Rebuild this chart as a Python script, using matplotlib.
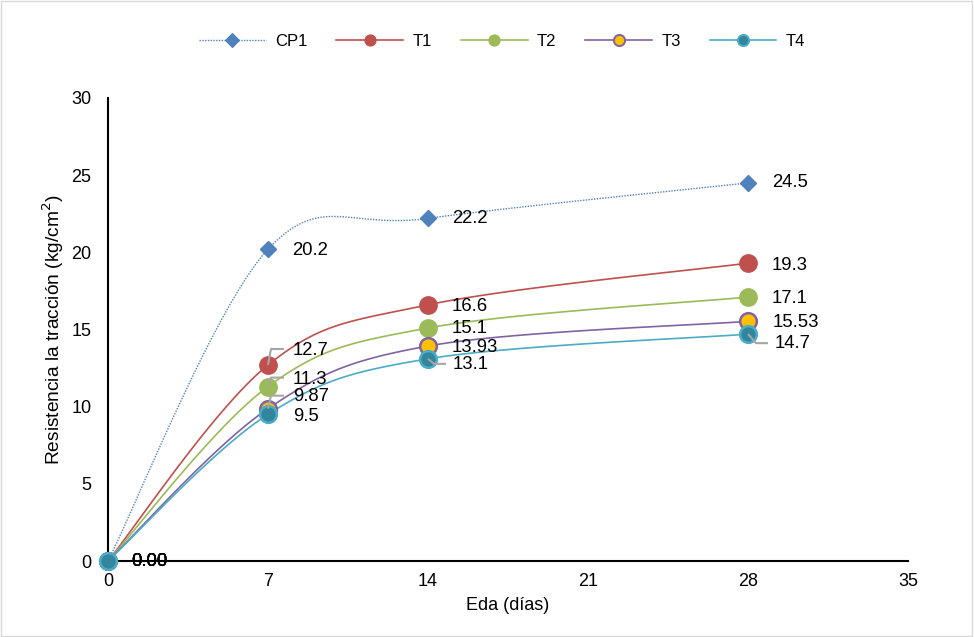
import numpy as np
import matplotlib
matplotlib.use("Agg")
import matplotlib.pyplot as plt
from matplotlib.patches import Rectangle

plt.rcParams['font.family'] = ['Liberation Sans', 'DejaVu Sans']

# Data
dias = [0, 7, 14, 28]
cp1 = [0.0, 20.2, 22.2, 24.5]
t1 = [0.0, 12.7, 16.6, 19.3]
t2 = [0.0, 11.3, 15.1, 17.1]
t3 = [0.0, 9.87, 13.93, 15.53]
t4 = [0.0, 9.5, 13.1, 14.7]
series_names = ["CP1", "T1", "T2", "T3", "T4"]
x_ticks = [0, 7, 14, 21, 28, 35]
y_ticks = [0, 5, 10, 15, 20, 25, 30]


def smooth(x, y, n=40):
    """Catmull-Rom style Bezier smoothing through all points."""
    pts = np.column_stack([np.asarray(x, float), np.asarray(y, float)])
    out = [pts[0]]
    m = len(pts)
    for i in range(m - 1):
        p0 = pts[i - 1] if i > 0 else pts[i]
        p1 = pts[i]
        p2 = pts[i + 1]
        p3 = pts[i + 2] if i + 2 < m else pts[i + 1]
        c1 = p1 + (p2 - p0) / 6.0
        c2 = p2 - (p3 - p1) / 6.0
        t = np.linspace(0, 1, n)[1:, None]
        seg = ((1 - t) ** 3) * p1 + 3 * ((1 - t) ** 2) * t * c1 \
            + 3 * (1 - t) * t ** 2 * c2 + t ** 3 * p2
        out.extend(seg)
    out = np.array(out)
    return out[:, 0], out[:, 1]


fig = plt.figure(figsize=(9.74, 6.37), dpi=100)
fig.patches.append(Rectangle((0.001, 0.002), 0.997, 0.996, transform=fig.transFigure,
                             fill=False, edgecolor='#D9D9D9', lw=1.0))
ax = fig.add_axes([108 / 974, 1 - 561 / 637, 800 / 974, 463 / 637])
ax.set_xlim(0, 35)
ax.set_ylim(0, 30)

styles = [
    dict(color='#4F81BD', ls=(0, (1, 1)), lw=1.0, marker='D', ms=8,
         mfc='#4F81BD', mec='#4F81BD', lms=7),
    dict(color='#C0504D', ls='-', lw=1.2, marker='o', ms=12.5,
         mfc='#C0504D', mec='#C0504D', lms=8),
    dict(color='#9BBB59', ls='-', lw=1.2, marker='o', ms=12.5,
         mfc='#9BBB59', mec='#9BBB59', lms=8),
    dict(color='#8064A2', ls='-', lw=1.2, marker='o', ms=12,
         mfc='#FFC000', mec='#8064A2', mew=1.8, lms=8),
    dict(color='#4BACC6', ls='-', lw=1.2, marker='o', ms=12,
         mfc='#31859C', mec='#4BACC6', mew=1.8, lms=8),
]
all_series = [cp1, t1, t2, t3, t4]

handles = []
for name, vals, st in zip(series_names, all_series, styles):
    sx, sy = smooth(dias, vals)
    ax.plot(sx, sy, color=st['color'], ls=st['ls'], lw=st['lw'], zorder=2,
            clip_on=False)
    ax.plot(dias, vals, ls='none', marker=st['marker'], ms=st['ms'],
            mfc=st['mfc'], mec=st['mec'], mew=st.get('mew', 1.0), zorder=3,
            clip_on=False)
    h, = ax.plot([], [], color=st['color'], ls=st['ls'], lw=st['lw'],
                 marker=st['marker'], ms=st['lms'], mfc=st['mfc'],
                 mec=st['mec'], mew=st.get('mew', 1.0) * 0.8)
    handles.append(h)

# Data labels (offsets in pixels)
px = 0.72  # points per pixel
label_offsets = {
    0: [(23, 0), (24, -1), (24, 0), (24, 0)],
    1: [(23, 0), (25, 14), (24, -2), (24, -2)],
    2: [(23, 0), (25, 7), (24, -1), (24, -1)],
    3: [(23, 0), (25, 12), (24, -1), (25, -1)],
    4: [(23, 0), (25, -2), (25, -6), (27, -9)],
}
leaders = {
    (1, 1): [(0, 0), (3, 16), (16, 16)],
    (2, 1): [(0, 0), (3, 9), (16, 9)],
    (3, 1): [(0, 0), (3, 13), (16, 13)],
    (4, 2): [(0, 0), (6, -5), (18, -5)],
    (4, 3): [(0, 0), (8, -9), (20, -9)],
}
for si, vals in enumerate(all_series):
    for pi, (xv, yv) in enumerate(zip(dias, vals)):
        txt = f"{yv:.2f}" if yv == 0 else f"{yv:g}"
        dx, dy = label_offsets[si][pi]
        ax.annotate(txt, (xv, yv), xytext=(dx * px, dy * px),
                    textcoords='offset points', ha='left', va='center',
                    fontsize=13.3, color='#000000', zorder=5)
        if (si, pi) in leaders:
            disp = ax.transData.transform((xv, yv))
            path = np.array([[disp[0] + a, disp[1] + b]
                             for a, b in leaders[(si, pi)]])
            dat = ax.transData.inverted().transform(path)
            ax.plot(dat[:, 0], dat[:, 1], color='#A6A6A6', lw=1.5, zorder=4,
                    solid_capstyle='butt', clip_on=False)

ax.set_xticks(x_ticks)
ax.set_yticks(y_ticks)
ax.tick_params(axis='both', length=0, labelsize=13, colors='#000000')
ax.tick_params(axis='x', pad=9)
ax.tick_params(axis='y', pad=12)
for s in ['top', 'right']:
    ax.spines[s].set_visible(False)
for s in ['left', 'bottom']:
    ax.spines[s].set_color('#000000')
    ax.spines[s].set_linewidth(1.5)
ax.set_xlabel("Eda (días)", fontsize=13, labelpad=5)
ax.set_ylabel("Resistencia la tracción (kg/cm$^2$)", fontsize=13.8, labelpad=4)

fig.legend(handles=handles, labels=series_names, loc='center',
           bbox_to_anchor=(502 / 974, 1 - 41 / 637), ncol=5, frameon=False,
           fontsize=12, handlelength=4.0, columnspacing=1.75, handletextpad=0.55)

fig.savefig("out.png", dpi=100)
